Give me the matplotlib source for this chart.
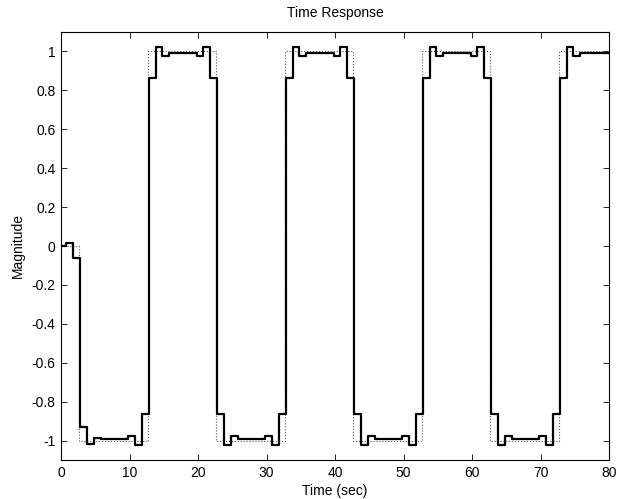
import matplotlib
matplotlib.use("Agg")
import matplotlib.pyplot as plt

plt.rcParams['font.family'] = ['Liberation Sans', 'DejaVu Sans']
plt.rcParams['axes.unicode_minus'] = False

# staircase output, one sample per second (held)
out_t = [0, 0.8, 1.8, 2.8, 3.8, 4.8, 5.8, 6.8, 7.8, 8.8,
         9.8, 10.8, 11.8, 12.8, 13.8, 14.8, 15.8, 16.8, 17.8, 18.8,
         19.8, 20.8, 21.8, 22.8, 23.8, 24.8, 25.8, 26.8, 27.8, 28.8,
         29.8, 30.8, 31.8, 32.8, 33.8, 34.8, 35.8, 36.8, 37.8, 38.8,
         39.8, 40.8, 41.8, 42.8, 43.8, 44.8, 45.8, 46.8, 47.8, 48.8,
         49.8, 50.8, 51.8, 52.8, 53.8, 54.8, 55.8, 56.8, 57.8, 58.8,
         59.8, 60.8, 61.8, 62.8, 63.8, 64.8, 65.8, 66.8, 67.8, 68.8,
         69.8, 70.8, 71.8, 72.8, 73.8, 74.8, 75.8, 76.8, 77.8, 78.8,
         79.8, 80]
out_y = [0.0, 0.015, -0.06, -0.93, -1.02, -0.985, -0.99, -0.99, -0.99, -0.99,
         -0.978, -1.025, -0.865, 0.865, 1.025, 0.978, 0.99, 0.99, 0.99, 0.99,
         0.978, 1.025, 0.865, -0.865, -1.025, -0.978, -0.99, -0.99, -0.99, -0.99,
         -0.978, -1.025, -0.865, 0.865, 1.025, 0.978, 0.99, 0.99, 0.99, 0.99,
         0.978, 1.025, 0.865, -0.865, -1.025, -0.978, -0.99, -0.99, -0.99, -0.99,
         -0.978, -1.025, -0.865, 0.865, 1.025, 0.978, 0.99, 0.99, 0.99, 0.99,
         0.978, 1.025, 0.865, -0.865, -1.025, -0.978, -0.99, -0.99, -0.99, -0.99,
         -0.978, -1.025, -0.865, 0.865, 1.025, 0.978, 0.99, 0.99, 0.99, 0.99,
         0.99, 0.99]

# reference square wave
ref_t = [0, 2.7, 12.7, 22.7, 32.7, 42.7, 52.7, 62.7, 72.7, 80]
ref_y = [0, -1, 1, -1, 1, -1, 1, -1, 1, 1]

xticks = [0, 10, 20, 30, 40, 50, 60, 70, 80]
yticks = [-1, -0.8, -0.6, -0.4, -0.2, 0, 0.2, 0.4, 0.6, 0.8, 1]
ytick_labels = ['-1', '-0.8', '-0.6', '-0.4', '-0.2', '0', '0.2', '0.4', '0.6', '0.8', '1']

fig = plt.figure(figsize=(6.21, 4.99), dpi=100)
ax = fig.add_axes([61 / 621, 39 / 499, 548 / 621, 428 / 499])

ax.plot(ref_t, ref_y, drawstyle='steps-post', color='#555555',
        linestyle=':', linewidth=0.8)
ax.plot(out_t, out_y, drawstyle='steps-post', color='black', linewidth=1.6)

ax.set_xlim(0, 80)
ax.set_ylim(-1.1, 1.1)
ax.set_xticks(xticks)
ax.set_yticks(yticks)
ax.set_yticklabels(ytick_labels)
ax.tick_params(direction='in', length=4, width=0.6, labelsize=10,
               top=True, right=True, pad=4)
for s in ax.spines.values():
    s.set_linewidth(0.8)

ax.set_title('Time Response', fontsize=10, pad=11)
ax.set_xlabel('Time (sec)', fontsize=10, labelpad=3)
ax.set_ylabel('Magnitude', fontsize=10, labelpad=5)

fig.savefig('out.png', dpi=100)
